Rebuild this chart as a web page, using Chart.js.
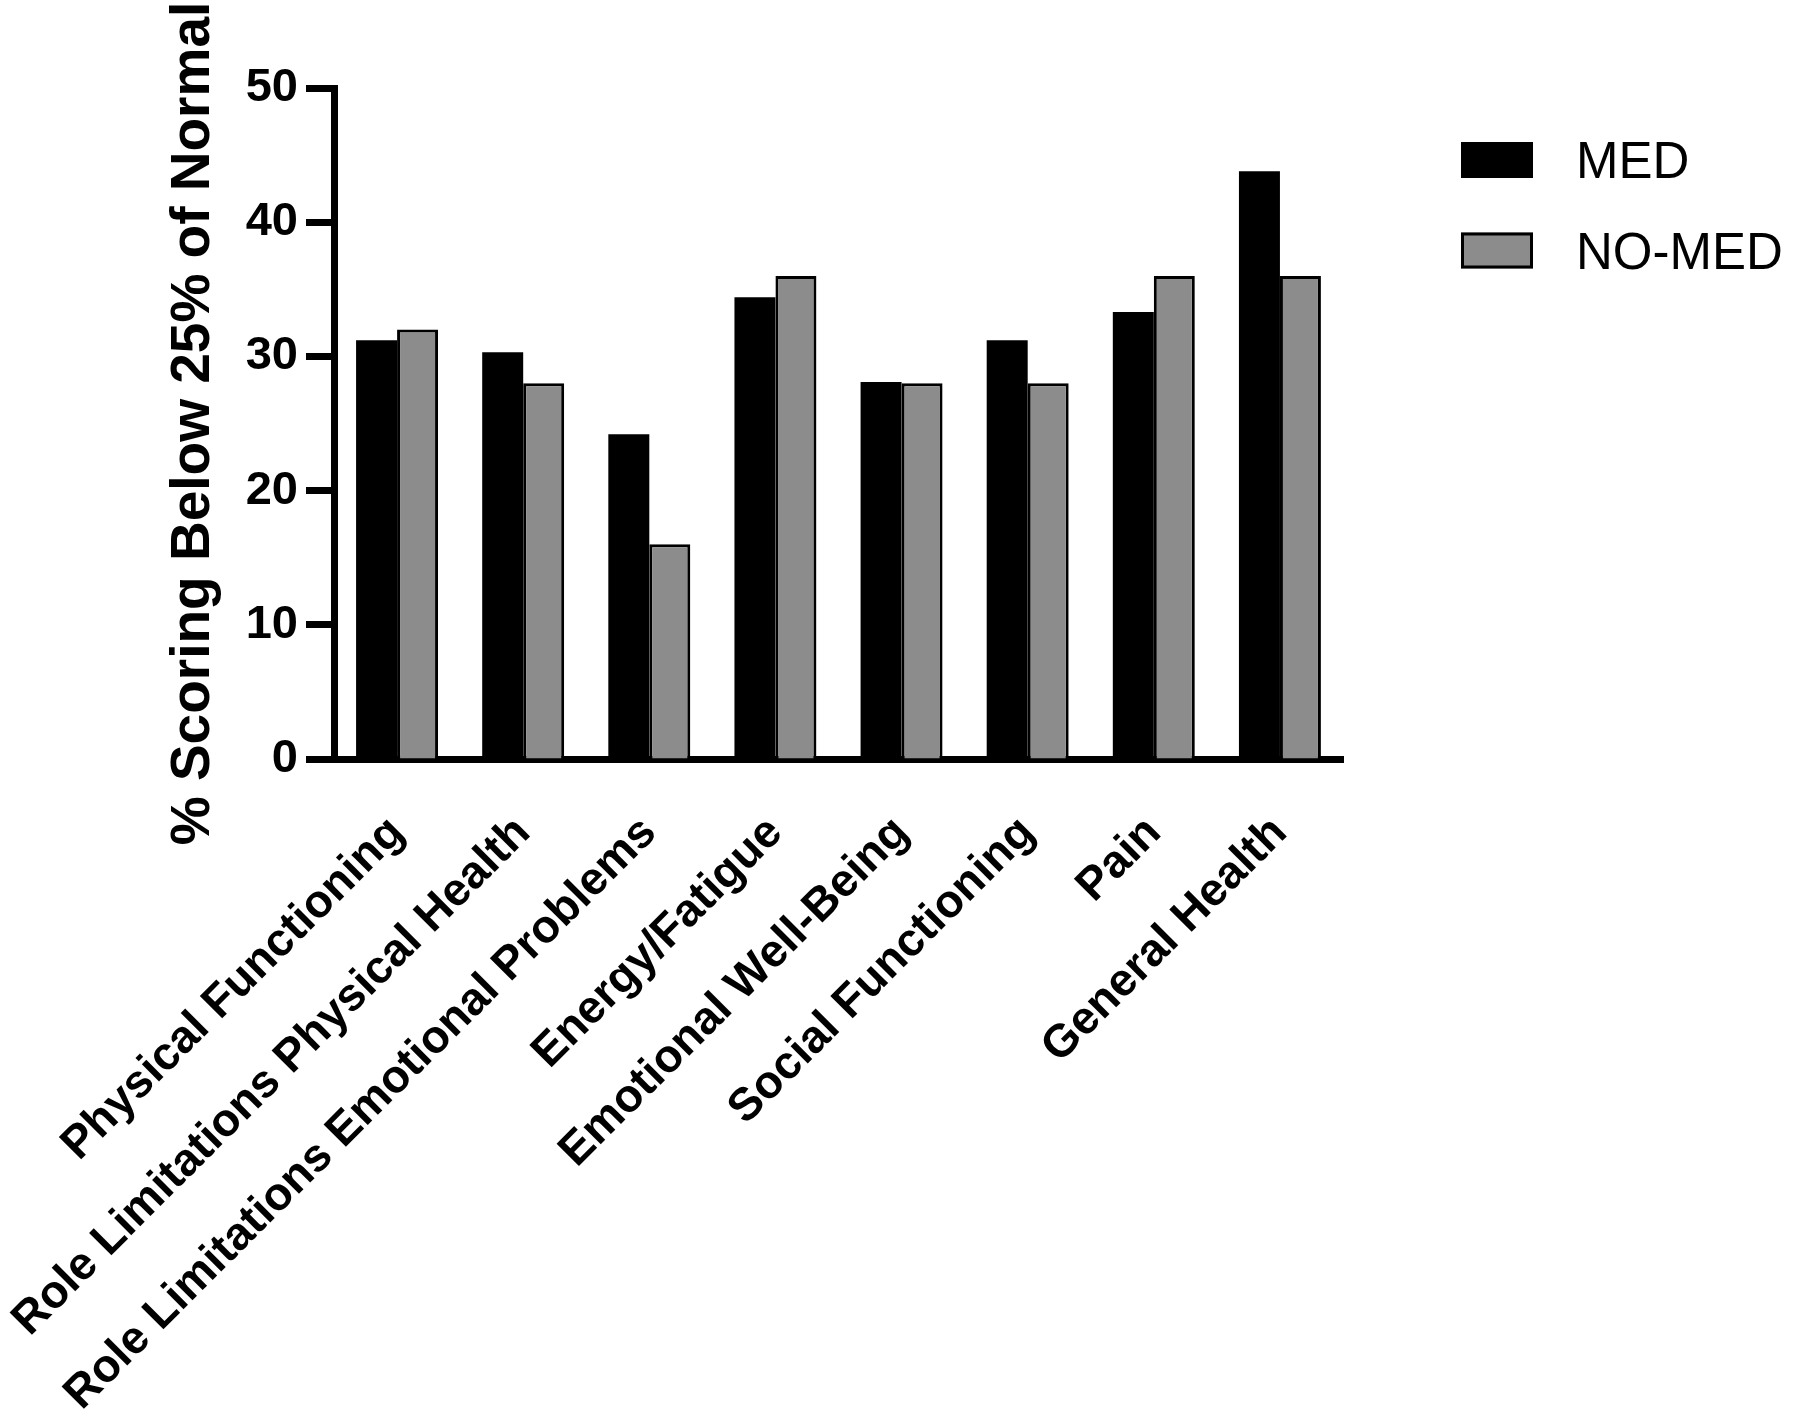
<!DOCTYPE html>
<html lang="en">
<head>
<meta charset="UTF-8">
<title>% Scoring Below 25% of Normal</title>
<script src="https://cdn.jsdelivr.net/npm/chart.js"></script>
<style>
  body { margin: 0; background: #fff; }
</style>
</head>
<body>
<canvas id="chart" width="1800" height="1422"></canvas>
<script>
const categories = [
  'Physical Functioning',
  'Role Limitations Physical Health',
  'Role Limitations Emotional Problems',
  'Energy/Fatigue',
  'Emotional Well-Being',
  'Social Functioning',
  'Pain',
  'General Health'
];
const seriesNames = ['MED', 'NO-MED'];
const medValues = [31.2, 30.3, 24.2, 34.4, 28.1, 31.2, 33.3, 43.8];
const noMedValues = [32, 28, 16, 36, 28, 28, 36, 36];
const yTicks = [0, 10, 20, 30, 40, 50];

const FONT = '"Liberation Sans", Arial, Helvetica, sans-serif';

// legend drawn at the right, like the original figure
const sideLegend = {
  id: 'sideLegend',
  afterDraw(chart) {
    const c = chart.ctx;
    chart.data.datasets.forEach((ds, i) => {
      const top = 142 + i * 90.5;
      c.save();
      c.fillStyle = ds.backgroundColor;
      c.fillRect(1461, top, 72, 36);
      if (ds.borderWidth) {
        c.lineWidth = 3;
        c.strokeStyle = '#000';
        c.strokeRect(1462.5, top + 1.5, 69, 33);
      }
      c.fillStyle = '#000';
      c.font = '51px ' + FONT;
      c.textBaseline = 'alphabetic';
      c.fillText(ds.label, 1576, top + 36);
      c.restore();
    });
  }
};

new Chart(document.getElementById('chart'), {
  type: 'bar',
  data: {
    labels: categories,
    datasets: [
      {
        label: seriesNames[0],
        data: medValues,
        backgroundColor: '#000',
        borderWidth: 0
      },
      {
        label: seriesNames[1],
        data: noMedValues,
        backgroundColor: '#8c8c8c',
        borderColor: '#000',
        borderWidth: 3
      }
    ]
  },
  options: {
    responsive: false,
    animation: false,
    categoryPercentage: 0.65,
    barPercentage: 1.0,
    layout: { padding: { left: 161, top: 88, right: 457, bottom: 0 } },
    plugins: {
      legend: { display: false },
      tooltip: { enabled: false }
    },
    scales: {
      x: {
        grid: { display: false },
        border: { display: true, color: '#000', width: 7 },
        ticks: {
          autoSkip: false,
          minRotation: 45,
          maxRotation: 45,
          padding: 39,
          color: '#000',
          font: { family: FONT, size: 46, weight: 'bold' }
        },
        afterFit: s => {
          s.height = 663;
          // long rotated labels may run past the left edge, as in the original
          s.paddingLeft = 0;
          s.paddingRight = 0;
        }
      },
      y: {
        min: 0,
        max: 50,
        afterBuildTicks: s => { s.ticks = yTicks.map(v => ({ value: v })); },
        afterFit: s => { s.width = 173; },
        grid: { drawOnChartArea: false, drawTicks: true, tickLength: 28, tickWidth: 7, color: '#000' },
        border: { display: true, color: '#000', width: 7 },
        ticks: {
          padding: 8,
          color: '#000',
          font: { family: FONT, size: 47, weight: 'bold' }
        },
        title: {
          display: true,
          text: '% Scoring Below 25% of Normal',
          color: '#000',
          padding: 0,
          font: { family: FONT, size: 55, weight: 'bold', lineHeight: 1.2 }
        }
      }
    }
  },
  plugins: [sideLegend]
});
</script>
</body>
</html>
